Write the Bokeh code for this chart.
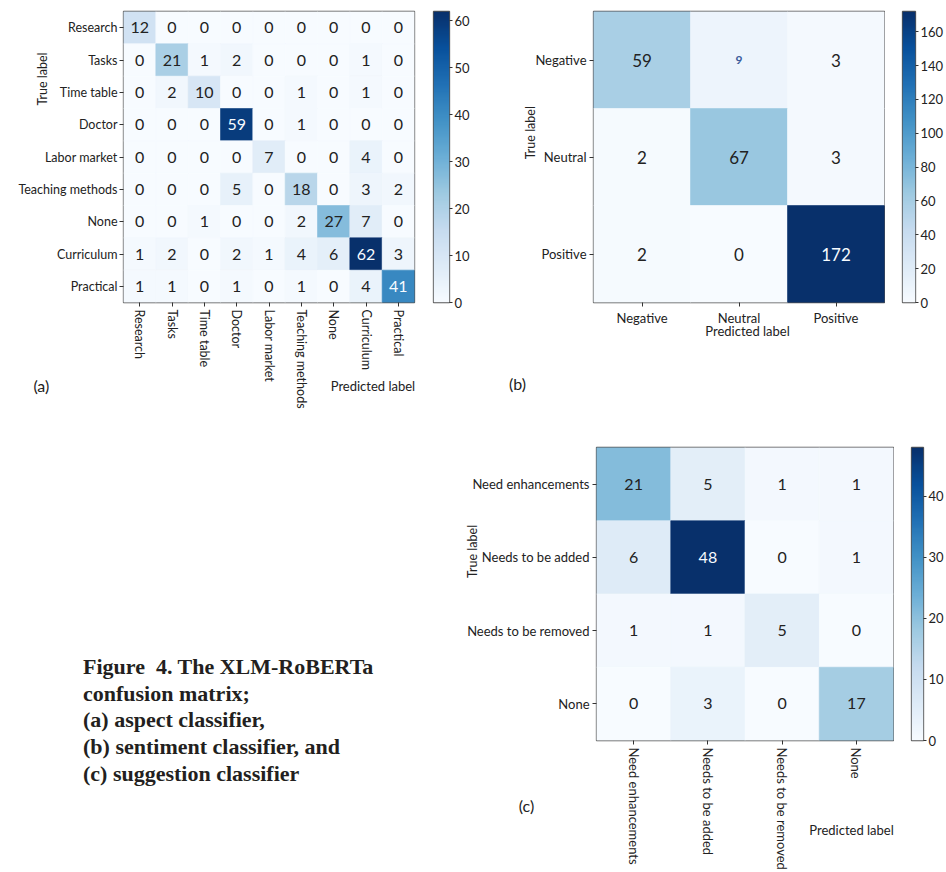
import math
import numpy as np
from bokeh.plotting import figure
from bokeh.models import (ColumnDataSource, LinearColorMapper, FixedTicker,
                          Label, Range1d, Div)
from bokeh.layouts import row, column
from bokeh.palettes import Blues256
from bokeh.embed import file_html
from bokeh.resources import INLINE
from bokeh.core.properties import value

# ---------------- data ----------------
aspect_labels = ["Research", "Tasks", "Time table", "Doctor", "Labor market",
                 "Teaching methods", "None", "Curriculum", "Practical"]
aspect_cm = [
    [12, 0, 0, 0, 0, 0, 0, 0, 0],
    [0, 21, 1, 2, 0, 0, 0, 1, 0],
    [0, 2, 10, 0, 0, 1, 0, 1, 0],
    [0, 0, 0, 59, 0, 1, 0, 0, 0],
    [0, 0, 0, 0, 7, 0, 0, 4, 0],
    [0, 0, 0, 5, 0, 18, 0, 3, 2],
    [0, 0, 1, 0, 0, 2, 27, 7, 0],
    [1, 2, 0, 2, 1, 4, 6, 62, 3],
    [1, 1, 0, 1, 0, 1, 0, 4, 41],
]
aspect_ticks = [0, 10, 20, 30, 40, 50, 60]

sentiment_labels = ["Negative", "Neutral", "Positive"]
sentiment_cm = [
    [59, 9, 3],
    [2, 67, 3],
    [2, 0, 172],
]
sentiment_ticks = [0, 20, 40, 60, 80, 100, 120, 140, 160]

suggestion_labels = ["Need enhancements", "Needs to be added", "Needs to be removed", "None"]
suggestion_cm = [
    [21, 5, 1, 1],
    [6, 48, 0, 1],
    [1, 1, 5, 0],
    [0, 3, 0, 17],
]
suggestion_ticks = [0, 10, 20, 30, 40]

caption_lines = ["Figure&nbsp;&nbsp;4. The XLM-RoBERTa", "confusion matrix;", "(a) aspect classifier,",
                 "(b) sentiment classifier, and", "(c) suggestion classifier"]

# ---------------- style ----------------
FONT = "Lato"
DARK = "#222222"
LIGHT = "#f7fbff"
PAL = list(Blues256)[::-1]


def style_axis(ax, size="13px"):
    ax.axis_line_color = None
    ax.major_tick_in = 0
    ax.major_tick_out = 4
    ax.minor_tick_out = 0
    ax.minor_tick_in = 0
    ax.major_tick_line_color = "#333333"
    ax.major_label_text_font = FONT
    ax.major_label_text_font_size = size
    ax.major_label_text_color = DARK
    ax.major_label_standoff = 3


def borders(fig_box, frame_box):
    fx, fy, W, H = fig_box
    L, T, R, B = frame_box
    return dict(width=W, height=H, min_border_left=L - fx, min_border_right=fx + W - R,
                min_border_top=T - fy, min_border_bottom=fy + H - B)


def make_panel(labels, cm, fig_box, frame_box, xvertical, tick_font="13px",
               cell_font="16px", special=None):
    n = len(labels)
    p = figure(output_backend="svg", toolbar_location=None, title=None,
               x_range=Range1d(-0.5, n - 0.5), y_range=Range1d(n - 0.5, -0.5),
               **borders(fig_box, frame_box))
    p.grid.visible = False
    p.outline_line_color = "#555555"
    p.outline_line_width = 1.3
    p.border_fill_color = "white"

    vmax = max(max(r) for r in cm)
    vmin = min(min(r) for r in cm)
    thresh = (vmax + vmin) / 2.0
    mapper = LinearColorMapper(palette=PAL, low=0, high=vmax)

    xs, ys, vs, ts, tcs, fss, fws = [], [], [], [], [], [], []
    for i in range(n):
        for j in range(n):
            v = cm[i][j]
            xs.append(j)
            ys.append(i)
            vs.append(v)
            ts.append(str(v))
            tc = LIGHT if v >= thresh else DARK
            fs, fw = cell_font, "normal"
            if special and (i, j) in special:
                tc, fs, fw = special[(i, j)]
            tcs.append(tc)
            fss.append(fs)
            fws.append(fw)
    src = ColumnDataSource(dict(x=xs, y=ys, v=vs, t=ts, tc=tcs, fs=fss, fw=fws))
    p.rect(x="x", y="y", width=1, height=1, source=src,
           fill_color={"field": "v", "transform": mapper},
           line_color={"field": "v", "transform": mapper}, line_width=0.6)
    p.text(x="x", y="y", text="t", source=src, text_align="center", text_baseline="middle",
           text_color="tc", text_font=value(FONT), text_font_size="fs",
           text_font_style="fw")

    for ax in (p.xaxis[0], p.yaxis[0]):
        ax.ticker = FixedTicker(ticks=list(range(n)))
        ax.major_label_overrides = {i: lab for i, lab in enumerate(labels)}
        style_axis(ax, tick_font)
    if xvertical:
        p.xaxis[0].major_label_orientation = "vertical"
    return p, mapper, vmax


def make_cbar(mapper, vmax, ticks, fig_box, frame_box, size="13px"):
    c = figure(output_backend="svg", toolbar_location=None, title=None,
               x_range=Range1d(0, 1), y_range=Range1d(0, vmax),
               x_axis_location=None, y_axis_location="right",
               **borders(fig_box, frame_box))
    c.grid.visible = False
    c.outline_line_color = "#555555"
    c.outline_line_width = 1.3
    c.border_fill_color = "white"
    grad = np.linspace(0, vmax, 256).reshape(-1, 1)
    c.image(image=[grad], x=0, y=0, dw=1, dh=vmax, color_mapper=mapper)
    ax = c.yaxis[0]
    ax.ticker = FixedTicker(ticks=ticks)
    style_axis(ax, size)
    ax.major_label_standoff = 2
    ax.major_tick_out = 3
    return c


def add_labels(p, n, frame_box, texts):
    """Labels live in a side panel (not clipped to the frame); placed through the data scales."""
    L, T, R, B = frame_box
    fw, fh = R - L, B - T
    for (txt, px, py, ang, size, side) in texts:
        lab = Label(x=-0.5 + (px - L) / fw * n, y=-0.5 + (py - T) / fh * n,
                    text=txt, angle=ang, text_align="center", text_baseline="middle",
                    text_font=FONT, text_font_size=size, text_color=DARK)
        p.add_layout(lab, side)


H1 = 428

# ---- panel (a) ----
A_FRAME = (120, 9, 414, 302)
pa, ma, va = make_panel(aspect_labels, aspect_cm, (0, 0, 432, H1), A_FRAME,
                        xvertical=True, tick_font="12.5px")
pa.yaxis[0].major_label_standoff = 2
ca = make_cbar(ma, va, aspect_ticks, (432, 0, 42, H1), (433, 9, 449, 302))
add_labels(pa, 9, A_FRAME, [("True label", 38, 77, math.pi / 2, "12.5px", "left"),
                            ("Predicted label", 372, 386, 0, "13px", "below"),
                            ("(a)", 37, 386, 0, "16px", "right")])

# ---- panel (b) ----
B_FRAME = (593, 11, 884, 304)
pb, mb, vb = make_panel(sentiment_labels, sentiment_cm, (474, 0, 411, H1), B_FRAME,
                        xvertical=False, cell_font="17px",
                        special={(0, 1): ("#3a5b9b", "12px", "bold")})
cb = make_cbar(mb, vb, sentiment_ticks, (885, 0, 61, H1), (902, 11, 918, 304))
add_labels(pb, 3, B_FRAME, [("True label", 530, 133, math.pi / 2, "12.5px", "left"),
                            ("Predicted label", 747, 333, 0, "13px", "below"),
                            ("(b)", 517, 386, 0, "16px", "below")])

# ---- panel (c) ----
C_FRAME = (596, 447, 893, 743)
pc, mc, vc = make_panel(suggestion_labels, suggestion_cm, (430, H1, 464, 872 - H1), C_FRAME,
                        xvertical=True, cell_font="16px")
cc = make_cbar(mc, vc, suggestion_ticks, (894, H1, 52, 872 - H1), (911, 447, 926, 743))
add_labels(pc, 4, C_FRAME, [("True label", 472, 552, math.pi / 2, "12.5px", "left"),
                            ("Predicted label", 851, 833, 0, "13px", "above"),
                            ("(c)", 526, 809, 0, "16px", "left")])

cap_html = ("<div style=\"font-family:'Liberation Serif','Times New Roman',serif;"
            "font-weight:bold;font-size:22px;line-height:26.7px;color:#231f20;"
            "padding-left:83px;padding-top:226px;white-space:nowrap;\">"
            + "<br>".join(caption_lines) + "</div>")
cap = Div(text=cap_html, width=430, height=872 - H1, margin=0)

layout = column(row(pa, ca, pb, cb), row(cap, pc, cc))
open("out.html", "w").write(file_html(layout, INLINE))
